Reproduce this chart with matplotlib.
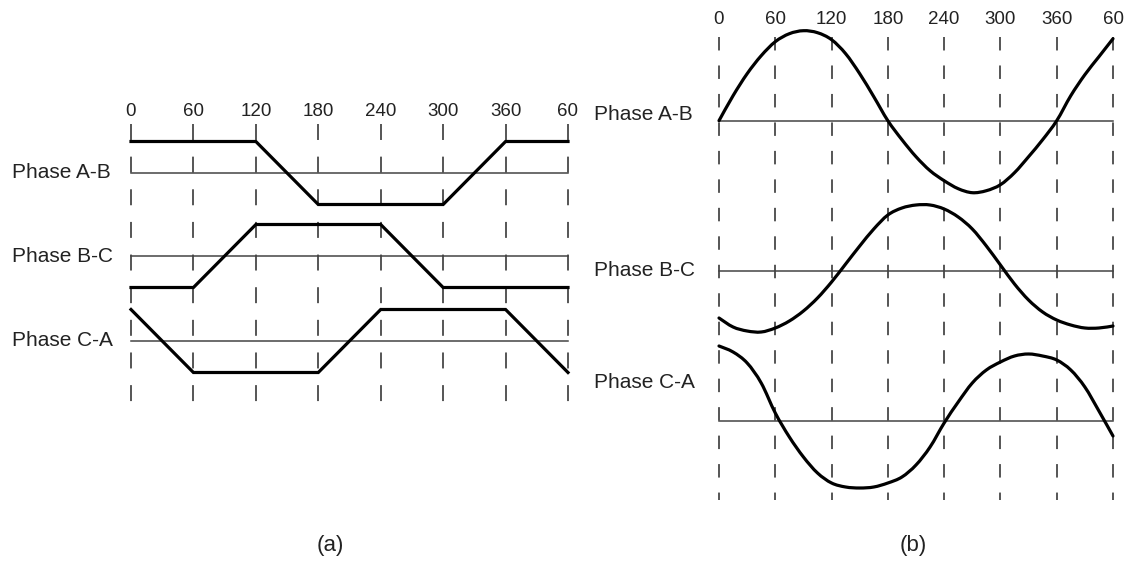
import matplotlib.pyplot as plt
from matplotlib.path import Path
from matplotlib.patches import PathPatch

plt.rcParams['font.family'] = ['Liberation Sans', 'DejaVu Sans']
plt.rcParams['lines.scale_dashes'] = False

W, H = 1128, 587

# angle ticks (electrical degrees), the last one wraps back to 60
tick_deg = [0, 60, 120, 180, 240, 300, 360, 420]
tick_labels = ['0', '60', '120', '180', '240', '300', '360', '60']
phase_names = ['Phase A-B', 'Phase B-C', 'Phase C-A']

# (a) trapezoidal line voltages, +1 / -1 at every 60 deg
trap_ab = [1, 1, 1, -1, -1, -1, 1, 1]
trap_bc = [-1, -1, 1, 1, 1, -1, -1, -1]
trap_ca = [1, -1, -1, -1, 1, 1, 1, -1]

# (b) sinusoidal line voltages, read every 15 deg
sine_deg = list(range(0, 421, 15))
sine_ab = [0, 25, 47, 65, 79, 87, 90, 88, 81, 67, 47, 24, 0, -19, -36,
           -50, -60, -68, -72, -70, -64, -52, -36, -19, 0, 25, 46, 64, 82]
sine_bc = [-47, -56, -60, -61, -57, -50, -40, -27, -11, 7, 25, 42, 56, 63, 66,
           66, 62, 54, 42, 25, 6, -13, -29, -41, -49, -54, -57, -57, -55]
sine_ca = [75, 69, 58, 38, 8, -16, -36, -52, -62, -66, -67, -66, -62, -56, -44,
           -26, -2, 19, 38, 51, 59, 65, 67, 65, 61, 51, 34, 10, -15]

fig = plt.figure(figsize=(W / 100, H / 100), dpi=100)


# each panel gets a full-height axes, y in pixel rows from the top
def panel(x0, x1):
    ax = fig.add_axes([x0 / W, 0, (x1 - x0) / W, 1])
    ax.set_xlim(0, 420)
    ax.set_ylim(H, 0)
    ax.axis('off')
    return ax


# smooth curve through the read points (catmull-rom drawn as bezier)
def smooth_path(xs, ys):
    pts = list(zip(xs, ys))
    verts, codes = [pts[0]], [Path.MOVETO]
    n = len(pts)
    for i in range(n - 1):
        p0 = pts[max(i - 1, 0)]
        p1, p2 = pts[i], pts[i + 1]
        p3 = pts[min(i + 2, n - 1)]
        c1 = (p1[0] + (p2[0] - p0[0]) / 6, p1[1] + (p2[1] - p0[1]) / 6)
        c2 = (p2[0] - (p3[0] - p1[0]) / 6, p2[1] - (p3[1] - p1[1]) / 6)
        verts += [c1, c2, p2]
        codes += [Path.CURVE4] * 3
    return Path(verts, codes)


thick = dict(color='black', lw=2.3, solid_joinstyle='miter', clip_on=False, zorder=3)
thin = dict(color='#444444', lw=1.1, clip_on=False, zorder=2)
num_font = ['Liberation Sans Narrow', 'Liberation Sans']

# ---- (a) ----
ax_a = panel(131, 568)
levels_a = [173, 256, 341]
amp_a = 31.5
for d, lab in zip(tick_deg, tick_labels):
    ax_a.plot([d, d], [124, 404], color='#555555', lw=1.4,
              ls=(0, (11.5, 12.0)), clip_on=False, zorder=1)
    ax_a.text(d, 111, lab, ha='center', va='center', fontsize=13.5,
              color='#222222', family=num_font)
for lvl, vals, name in zip(levels_a, [trap_ab, trap_bc, trap_ca], phase_names):
    ax_a.plot([0, 420], [lvl, lvl], **thin)
    ax_a.plot(tick_deg, [lvl - v * amp_a for v in vals], **thick)
    fig.text(12 / W, 1 - lvl / H, name, ha='left', va='center',
             fontsize=15, color='#222222')

# ---- (b) ----
ax_b = panel(719, 1113)
levels_b = [120.7, 271, 421]
for d, lab in zip(tick_deg, tick_labels):
    ax_b.plot([d, d], [37, 500], color='#555555', lw=1.4,
              ls=(0, (9.7, 10.8)), clip_on=False, zorder=1)
    ax_b.text(d, 19, lab, ha='center', va='center', fontsize=13.5,
              color='#222222', family=num_font)
label_y_b = [114, 270, 383]
for lvl, vals, ly, name in zip(levels_b, [sine_ab, sine_bc, sine_ca], label_y_b, phase_names):
    ax_b.plot([0, 420], [lvl, lvl], **thin)
    ax_b.add_patch(PathPatch(smooth_path(sine_deg, [lvl - v for v in vals]),
                             fill=False, edgecolor='black', lw=2.3,
                             capstyle='round', joinstyle='round',
                             clip_on=False, zorder=3))
    fig.text(594 / W, 1 - ly / H, name, ha='left', va='center',
             fontsize=15, color='#222222')

fig.text(330 / W, 1 - 545 / H, '(a)', ha='center', va='center', fontsize=16, color='#222222')
fig.text(913 / W, 1 - 545 / H, '(b)', ha='center', va='center', fontsize=16, color='#222222')

fig.savefig('out.png', dpi=100, facecolor='white')
